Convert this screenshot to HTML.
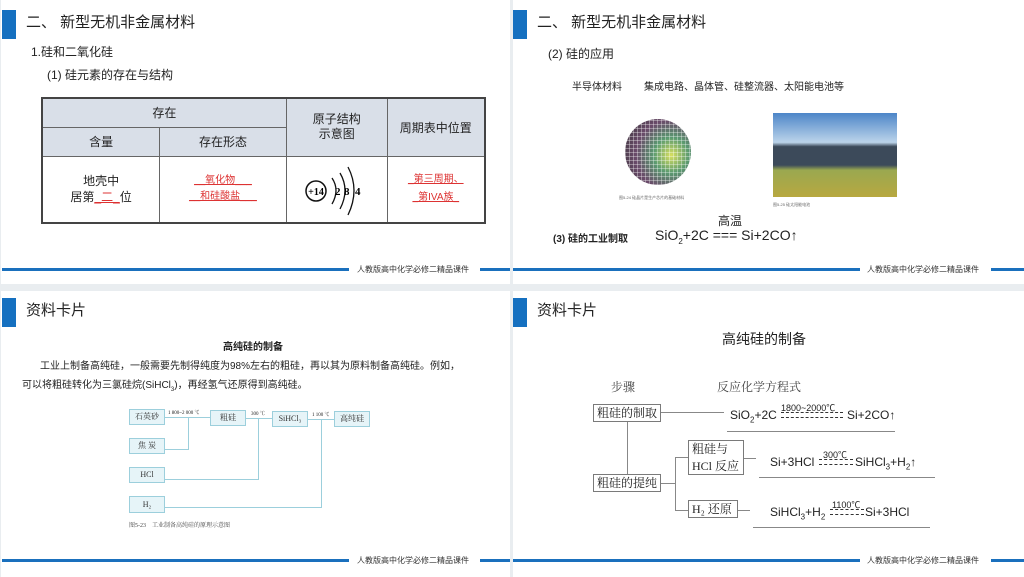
<!DOCTYPE html>
<html><head><meta charset="utf-8"><style>
*{margin:0;padding:0;box-sizing:border-box}
body{width:1024px;height:577px;background:#e9edf0;position:relative;overflow:hidden;font-family:"Liberation Sans","Noto Sans CJK SC",sans-serif;color:#222}
.p{position:absolute;background:#fff;overflow:hidden}
.a{position:absolute;white-space:nowrap}
.bar{position:absolute;left:1px;top:10px;width:14px;height:29px;background:#1570c0}
.ttl{position:absolute;left:25px;top:10px;font-size:15px;line-height:26px;color:#222}
.fl{position:absolute;top:268px;height:3px;background:#1a70bd}
.ft{position:absolute;left:356px;top:264px;font-size:8px;color:#333}
.serif{font-family:"Liberation Serif","Noto Serif CJK SC",serif}
.bx{position:absolute;border:1px solid #7a7a7a}
.cb{position:absolute;border:1.5px solid #9ccfdc;background:#e6f4f8;font-size:8px;text-align:center;font-family:"Liberation Serif","Noto Serif CJK SC",serif;color:#333}
.cl{position:absolute;background:#9ccfdc}
.eq{position:absolute;height:6px;border-top:1px dashed #333;border-bottom:1px dashed #333}
table{border-collapse:collapse}
td{border:1px solid #666;text-align:center;font-size:12px}
</style></head><body>

<!-- Panel 1 -->
<div class="p" style="left:1px;top:0;width:509px;height:284px">
<div class="bar"></div>
<div class="ttl">二、 新型无机非金属材料</div>
<div class="a" style="left:30px;top:43px;font-size:12px">1.硅和二氧化硅</div>
<div class="a" style="left:46px;top:66px;font-size:12px">(1) 硅元素的存在与结构</div>
<table class="a" style="left:40px;top:97px;width:445px;height:127px;border:2px solid #444">
<tr style="height:29px;background:#d9dfe8"><td colspan="2">存在</td><td rowspan="2" style="width:101px;line-height:15px">原子结构<br>示意图</td><td rowspan="2" style="width:98px">周期表中位置</td></tr>
<tr style="height:29px;background:#d9dfe8"><td style="width:118px">含量</td><td style="width:127px">存在形态</td></tr>
<tr><td style="line-height:16px">地壳中<br>居第<u style="color:#d33">_二_</u>位</td>
<td style="font-size:10px;color:#d33;line-height:16px"><u>__氧化物___</u><br><u>__和硅酸盐___</u></td>
<td><svg width="70" height="60" viewBox="0 0 70 60"><circle cx="14" cy="33" r="10" fill="none" stroke="#111" stroke-width="1.5"/><text x="14" y="37" font-size="10" font-weight="bold" text-anchor="middle" font-family="Liberation Serif">+14</text><path d="M30 20 Q38 32 30 46" fill="none" stroke="#111" stroke-width="1.3"/><path d="M38 15 Q48 32 38 51" fill="none" stroke="#111" stroke-width="1.3"/><path d="M46 9 Q58 32 46 57" fill="none" stroke="#111" stroke-width="1.3"/><text x="33" y="37" font-size="11" font-weight="bold" font-family="Liberation Serif">2</text><text x="42" y="37" font-size="11" font-weight="bold" font-family="Liberation Serif">8</text><text x="53" y="37" font-size="11" font-weight="bold" font-family="Liberation Serif">4</text></svg></td>
<td style="font-size:10px;color:#d33;line-height:18px"><u>_第三周期、</u><br><u>_第IVA族_</u></td></tr>
</table>
<div class="fl" style="left:1px;width:347px"></div><div class="ft">人教版高中化学必修二精品课件</div><div class="fl" style="left:479px;width:32px"></div>
</div>

<!-- Panel 2 -->
<div class="p" style="left:513px;top:0;width:511px;height:284px">
<div class="bar" style="left:0"></div>
<div class="ttl" style="left:24px">二、 新型无机非金属材料</div>
<div class="a" style="left:35px;top:45px;font-size:12px">(2) 硅的应用</div>
<div class="a" style="left:59px;top:78px;font-size:10px">半导体材料</div>
<div class="a" style="left:131px;top:78px;font-size:10px">集成电路、晶体管、硅整流器、太阳能电池等</div>
<div class="a" style="left:112px;top:119px;width:66px;height:66px;border-radius:50%;background:repeating-linear-gradient(90deg,rgba(255,255,255,.35) 0 1px,transparent 1px 4px),repeating-linear-gradient(0deg,rgba(255,255,255,.35) 0 1px,transparent 1px 4px),radial-gradient(circle at 70% 55%,#d8e060,#5a9a70 30%,#6a4a6a 60%,#333 100%)"></div>
<div class="a" style="left:106px;top:195px;font-size:4px;color:#666">图5-24 硅晶片是生产芯片的基础材料</div>
<div class="a" style="left:260px;top:113px;width:124px;height:84px;background:linear-gradient(180deg,#4d86c8 0%,#bcd4ea 35%,#3c4a5a 40%,#3c4a5a 62%,#9aa850 68%,#b8a840 100%)"></div>
<div class="a" style="left:260px;top:202px;font-size:4px;color:#666">图5-25 硅太阳能电池</div>
<div class="a" style="left:40px;top:230px;font-size:10px;font-weight:bold">(3) 硅的工业制取</div>
<div class="a" style="left:142px;top:227px;font-size:14px">SiO<sub style="font-size:8px">2</sub>+2C === Si+2CO↑</div>
<div class="a" style="left:205px;top:212px;font-size:12px">高温</div>
<div class="fl" style="left:0;width:347px"></div><div class="ft" style="left:354px">人教版高中化学必修二精品课件</div><div class="fl" style="left:478px;width:33px"></div>
</div>

<!-- Panel 3 -->
<div class="p" style="left:1px;top:291px;width:509px;height:286px">
<div class="bar" style="top:7px"></div>
<div class="ttl" style="top:7px">资料卡片</div>
<div class="a" style="left:222px;top:47px;font-size:10px;font-weight:bold">高纯硅的制备</div>
<div class="a" style="left:39px;top:66px;font-size:10px">工业上制备高纯硅，一般需要先制得纯度为98%左右的粗硅，再以其为原料制备高纯硅。例如，</div>
<div class="a" style="left:21px;top:85px;font-size:10px">可以将粗硅转化为三氯硅烷(SiHCl<sub style="font-size:6px">3</sub>)，再经氢气还原得到高纯硅。</div>
<div class="cl" style="left:164px;top:126px;width:45px;height:1px"></div>
<div class="cl" style="left:187px;top:126px;width:1px;height:33px"></div>
<div class="cl" style="left:164px;top:158px;width:24px;height:1px"></div>
<div class="cl" style="left:245px;top:127px;width:26px;height:1px"></div>
<div class="cl" style="left:257px;top:127px;width:1px;height:62px"></div>
<div class="cl" style="left:164px;top:188px;width:94px;height:1px"></div>
<div class="cl" style="left:307px;top:128px;width:26px;height:1px"></div>
<div class="cl" style="left:320px;top:128px;width:1px;height:89px"></div>
<div class="cl" style="left:164px;top:216px;width:157px;height:1px"></div>
<div class="cb" style="left:128px;top:118px;width:36px;height:16px;line-height:14px">石英砂</div>
<div class="cb" style="left:128px;top:147px;width:36px;height:16px;line-height:14px">焦 炭</div>
<div class="cb" style="left:128px;top:176px;width:36px;height:16px;line-height:14px">HCl</div>
<div class="cb" style="left:128px;top:205px;width:36px;height:17px;line-height:15px">H₂</div>
<div class="cb" style="left:209px;top:119px;width:36px;height:16px;line-height:14px">粗硅</div>
<div class="cb" style="left:271px;top:120px;width:36px;height:16px;line-height:14px">SiHCl₃</div>
<div class="cb" style="left:333px;top:120px;width:36px;height:16px;line-height:14px">高纯硅</div>
<div class="a serif" style="left:167px;top:118px;font-size:5px">1 800~2 000 ℃</div>
<div class="a serif" style="left:250px;top:119px;font-size:5px">300 ℃</div>
<div class="a serif" style="left:311px;top:120px;font-size:5px">1 100 ℃</div>
<div class="a serif" style="left:128px;top:229px;font-size:6px;color:#444">图5-23　工业制备高纯硅的原理示意图</div>
<div class="fl" style="left:1px;top:268px;width:347px"></div><div class="ft">人教版高中化学必修二精品课件</div><div class="fl" style="left:479px;top:268px;width:32px"></div>
</div>

<!-- Panel 4 -->
<div class="p" style="left:513px;top:291px;width:511px;height:286px">
<div class="bar" style="left:0;top:7px"></div>
<div class="ttl" style="left:24px;top:7px">资料卡片</div>
<div class="a" style="left:209px;top:38px;font-size:14px">高纯硅的制备</div>
<div class="a serif" style="left:98px;top:87px;font-size:12px;color:#444">步骤</div>
<div class="a serif" style="left:204px;top:87px;font-size:12px;color:#444">反应化学方程式</div>
<div class="bx serif" style="left:80px;top:113px;width:68px;height:18px;font-size:12px;line-height:16px;text-align:center">粗硅的制取</div>
<div class="bx serif" style="left:80px;top:183px;width:68px;height:18px;font-size:12px;line-height:16px;text-align:center">粗硅的提纯</div>
<div class="bx serif" style="left:175px;top:149px;width:56px;height:35px;font-size:12px;line-height:17px;padding-left:3px">粗硅与<br>HCl 反应</div>
<div class="bx serif" style="left:175px;top:209px;width:50px;height:18px;font-size:12px;line-height:16px;padding-left:3px">H₂ 还原</div>
<div class="cl" style="background:#888;left:148px;top:121px;width:63px;height:1px"></div>
<div class="cl" style="background:#888;left:114px;top:131px;width:1px;height:52px"></div>
<div class="cl" style="background:#888;left:148px;top:192px;width:14px;height:1px"></div>
<div class="cl" style="background:#888;left:162px;top:166px;width:1px;height:54px"></div>
<div class="cl" style="background:#888;left:162px;top:166px;width:13px;height:1px"></div>
<div class="cl" style="background:#888;left:162px;top:219px;width:13px;height:1px"></div>
<div class="cl" style="background:#888;left:231px;top:167px;width:12px;height:1px"></div>
<div class="cl" style="background:#888;left:225px;top:219px;width:12px;height:1px"></div>

<div class="a" style="left:217px;top:117px;font-size:12px">SiO<sub style="font-size:8px">2</sub>+2C</div>
<div class="a" style="left:268px;top:110px;font-size:9px">1800~2000℃</div>
<div class="eq" style="left:268px;top:121px;width:62px"></div>
<div class="a" style="left:334px;top:117px;font-size:12px">Si+2CO↑</div>
<div class="cl" style="background:#888;left:214px;top:140px;width:168px;height:1px"></div>

<div class="a" style="left:257px;top:164px;font-size:12px">Si+3HCl</div>
<div class="a" style="left:310px;top:157px;font-size:9px">300℃</div>
<div class="eq" style="left:306px;top:168px;width:34px"></div>
<div class="a" style="left:342px;top:164px;font-size:12px">SiHCl<sub style="font-size:8px">3</sub>+H<sub style="font-size:8px">2</sub>↑</div>
<div class="cl" style="background:#888;left:246px;top:186px;width:176px;height:1px"></div>

<div class="a" style="left:257px;top:214px;font-size:12px">SiHCl<sub style="font-size:8px">3</sub>+H<sub style="font-size:8px">2</sub></div>
<div class="a" style="left:319px;top:207px;font-size:9px">1100℃</div>
<div class="eq" style="left:317px;top:218px;width:34px"></div>
<div class="a" style="left:352px;top:214px;font-size:12px">Si+3HCl</div>
<div class="cl" style="background:#888;left:240px;top:236px;width:177px;height:1px"></div>
<div class="fl" style="left:0;top:268px;width:347px"></div><div class="ft" style="left:354px">人教版高中化学必修二精品课件</div><div class="fl" style="left:478px;top:268px;width:33px"></div>
</div>
</body></html>
